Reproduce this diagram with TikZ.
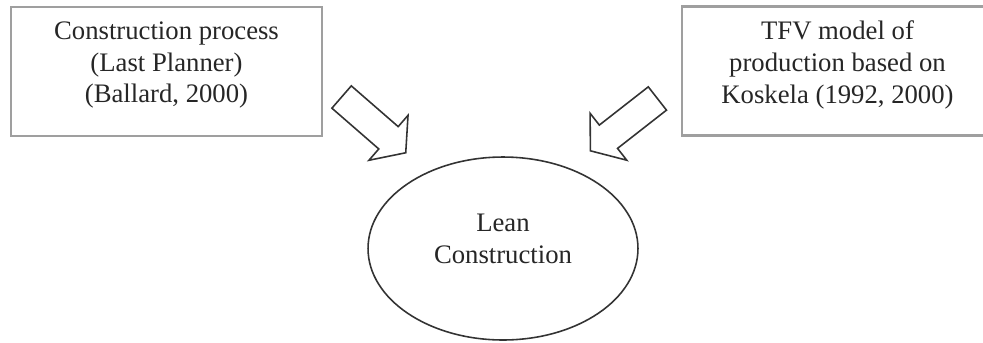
\documentclass[tikz,border=0pt]{standalone}
\usepackage{fontspec}
\setmainfont{Liberation Serif}
\usetikzlibrary{shapes.geometric,shapes.arrows}

\begin{document}
\begin{tikzpicture}[x=0.02cm,y=-0.02cm,
  every node/.style={font=\fontsize{15.2}{18.2}\selectfont, text=black!85},
  box/.style={draw=gray!75, line width=1.6pt, minimum width=6.22cm, minimum height=2.58cm, inner sep=0pt},
  boxtext/.style={align=center, inner sep=0pt},
  oval/.style={draw=black!80, line width=0.9pt, ellipse, minimum width=5.4cm, minimum height=3.66cm, inner sep=0pt},
  blockarrow/.style={draw=black!80, line width=0.9pt, single arrow, inner xsep=0pt, inner ysep=0.28cm,
    minimum height=1.7cm, minimum width=1.16cm, single arrow head extend=0.3cm,
    single arrow tip angle=105, anchor=tail}]
\useasboundingbox (0,0) rectangle (983,342);
\clip (0,0) rectangle (983,342);
\node[box] (lastplanner) at (166.5,71.5) {};
\node[boxtext] (lastplannertext) at ([yshift=0.13cm]lastplanner.center) {Construction process\\(Last Planner)\\(Ballard, 2000)};
\node[box] (tfv) at (837.5,71) {};
\node[boxtext] (tfvtext) at ([yshift=0.12cm]tfv.center) {TFV model of\\production based on\\Koskela (1992, 2000)};
\node[oval] (lean) at (503,248.5) {};
\node[boxtext] (leantext) at ([yshift=0.19cm]lean.center) {Lean\\Construction};
\node[blockarrow, rotate=-41] (arrowleft) at (341,96.5) {};
\node[blockarrow, rotate=-142] (arrowright) at (658,98) {};
\end{tikzpicture}
\end{document}
